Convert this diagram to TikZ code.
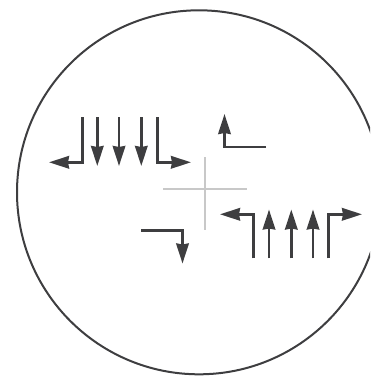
\documentclass[tikz,border=0pt]{standalone}
\usetikzlibrary{arrows.meta}
\definecolor{ink}{RGB}{62,62,64}
\definecolor{crossgray}{RGB}{200,200,200}
\begin{document}
\begin{tikzpicture}[x=1pt,y=-1pt,
  lane/.style={draw=ink,line width=2.7pt},
  arr/.style={lane,-{Stealth[length=20pt,width=12.5pt,inset=1pt]}},
  ring/.style={draw=ink,line width=2pt},
  crossline/.style={draw=crossgray,line width=1.1pt}]
\useasboundingbox (0,0) rectangle (370,378);
\begin{scope}
\clip (0,0) rectangle (370,378);
\draw[ring] (199,192.3) circle (182);
\end{scope}
% cross
\draw[crossline] (205,157) -- (205,230);
\draw[crossline] (163,189) -- (247,189);
% left group (southbound)
\draw[arr] (82.3,117) -- (82.3,162.3) -- (49,162.3);
\draw[arr] (97.3,117) -- (97.3,166);
\draw[arr] (119,117) -- (119,166);
\draw[arr] (141.3,117) -- (141.3,166);
\draw[arr] (157.3,117) -- (157.3,162.3) -- (191,162.3);
% top right
\draw[arr] (266,147) -- (224.5,147) -- (224.5,114);
% right group (northbound)
\draw[arr] (253.3,258.3) -- (253.3,214.3) -- (220,214.3);
\draw[arr] (269,258.3) -- (269,209.5);
\draw[arr] (291.3,258.3) -- (291.3,209.5);
\draw[arr] (313,258.3) -- (313,209.5);
\draw[arr] (328.7,258.3) -- (328.7,214.3) -- (362,214.3);
% bottom left
\draw[arr] (141,230.5) -- (182.5,230.5) -- (182.5,263.5);
\end{tikzpicture}
\end{document}
